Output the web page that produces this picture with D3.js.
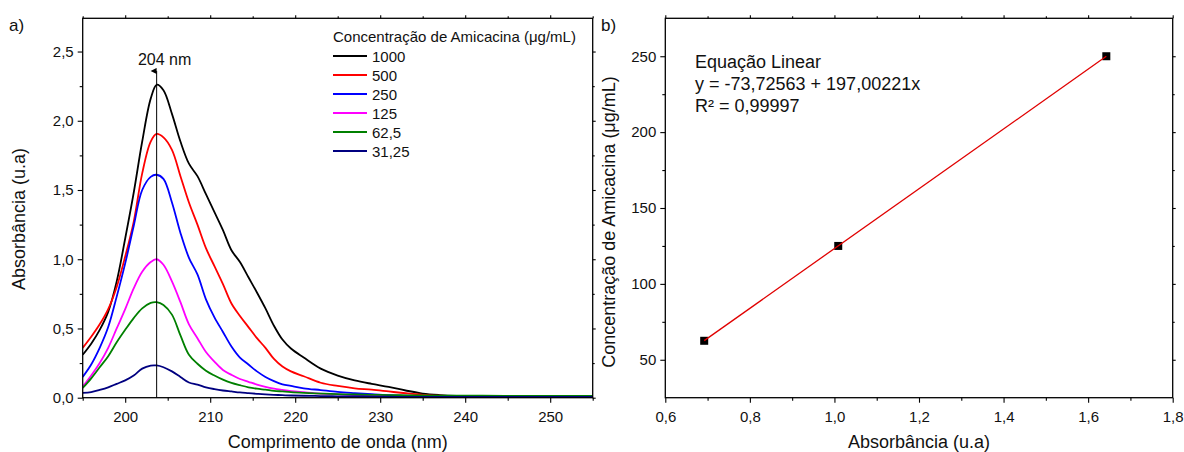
<!DOCTYPE html>
<html>
<head>
<meta charset="utf-8">
<script src="https://cdn.jsdelivr.net/npm/d3@7"></script>
<style>
  html, body { margin: 0; padding: 0; background: #fff; }
  svg { display: block; font-family: "Liberation Sans", Arial, sans-serif; }
</style>
</head>
<body>
<svg id="chart" width="1184" height="452"></svg>
<script>
// ---- Spectra (panel a) ----
const wavelength = [195, 196, 197, 198, 199, 200, 201, 202, 203, 203.7, 204.5, 205.5, 206.5, 207.5, 208.5, 209.5,
  210.5, 211.5, 212.5, 213.5, 214.5, 215.5, 216.5, 217.5, 218.5, 219.5, 221, 223, 225, 227, 229, 231, 233, 235,
  237, 239, 242, 246, 250, 255];

const abs1000 = [0.31, 0.39, 0.49, 0.62, 0.84, 1.15, 1.48, 1.85, 2.16, 2.26, 2.22, 2.05, 1.85, 1.69, 1.60, 1.47,
  1.34, 1.21, 1.065, 0.98, 0.87, 0.76, 0.645, 0.52, 0.42, 0.355, 0.29, 0.21, 0.16, 0.125, 0.10, 0.078, 0.052, 0.03,
  0.019, 0.013, 0.010, 0.009, 0.008, 0.008];
const abs500 = [0.36, 0.44, 0.53, 0.64, 0.80, 1.02, 1.27, 1.62, 1.85, 1.905, 1.88, 1.79, 1.60, 1.41, 1.25, 1.08,
  0.95, 0.82, 0.68, 0.59, 0.51, 0.43, 0.36, 0.28, 0.225, 0.19, 0.155, 0.108, 0.085, 0.068, 0.058, 0.045, 0.032, 0.021,
  0.015, 0.012, 0.010, 0.009, 0.008, 0.008];
const abs250 = [0.15, 0.24, 0.36, 0.51, 0.73, 0.97, 1.24, 1.50, 1.595, 1.61, 1.58, 1.41, 1.19, 1.01, 0.89, 0.71,
  0.58, 0.475, 0.37, 0.29, 0.24, 0.19, 0.15, 0.12, 0.097, 0.085, 0.068, 0.055, 0.042, 0.033, 0.025, 0.018, 0.014, 0.011,
  0.009, 0.008, 0.007, 0.007, 0.006, 0.006];
const abs125 = [0.08, 0.16, 0.25, 0.36, 0.50, 0.64, 0.79, 0.91, 0.98, 1.0, 0.96, 0.84, 0.69, 0.53, 0.43, 0.33,
  0.26, 0.20, 0.165, 0.135, 0.115, 0.095, 0.078, 0.065, 0.056, 0.048, 0.04, 0.03, 0.024, 0.019, 0.015, 0.012, 0.010, 0.009,
  0.008, 0.007, 0.006, 0.006, 0.006, 0.006];
const abs62_5 = [0.07, 0.14, 0.22, 0.30, 0.40, 0.49, 0.575, 0.645, 0.685, 0.69, 0.67, 0.60, 0.45, 0.31, 0.245, 0.195,
  0.16, 0.13, 0.107, 0.09, 0.075, 0.065, 0.058, 0.05, 0.045, 0.04, 0.035, 0.03, 0.026, 0.023, 0.021, 0.019, 0.017, 0.016,
  0.015, 0.014, 0.014, 0.013, 0.013, 0.013];
const abs31_25 = [0.035, 0.04, 0.056, 0.075, 0.10, 0.125, 0.16, 0.21, 0.232, 0.233, 0.22, 0.19, 0.15, 0.11, 0.095, 0.075,
  0.062, 0.052, 0.045, 0.038, 0.033, 0.028, 0.024, 0.021, 0.018, 0.016, 0.014, 0.012, 0.010, 0.009, 0.008, 0.007, 0.006, 0.006,
  0.005, 0.005, 0.005, 0.005, 0.005, 0.005];

const concLabels = ["1000", "500", "250", "125", "62,5", "31,25"];
const spectra = [abs1000, abs500, abs250, abs125, abs62_5, abs31_25];
const spectraColors = ["#000000", "#ff0000", "#0000ff", "#ff00ff", "#008000", "#000080"];

const peakWavelength = 203.7;
const peakLabel = "204 nm";

const wlTicks = [200, 210, 220, 230, 240, 250];
const absTicks = [0, 0.5, 1.0, 1.5, 2.0, 2.5];

// ---- Calibration (panel b) ----
const calibAbs = [0.692, 1.009, 1.643];
const calibConc = [62.5, 125, 250];
const fitIntercept = -73.72563;
const fitSlope = 197.00221;
const fitR2 = "0,99997";

const calAbsTicks = [0.6, 0.8, 1.0, 1.2, 1.4, 1.6, 1.8];
const calConcTicks = [50, 100, 150, 200, 250];

// ---- Helpers ----
const ptBR = d3.formatLocale({ decimal: ",", thousands: ".", grouping: [3], currency: ["R$", ""] });
const fmt1 = ptBR.format(".1f");
const fmt0 = ptBR.format("d");

const svg = d3.select("#chart");
const TICK_FONT = 15;

function frameAxes(g, x, y, o) {
  const [x0, x1] = x.range();
  const [y0, y1] = y.range(); // y0 bottom, y1 top

  g.append("g").attr("transform", `translate(0,${y0})`)
    .call(d3.axisBottom(x).tickValues(o.xMajor).tickFormat(o.xFmt).tickSizeInner(5).tickSizeOuter(0).tickPadding(9));
  g.append("g").attr("transform", `translate(0,${y0})`)
    .call(d3.axisBottom(x).tickValues(o.xMinor).tickFormat("").tickSizeInner(3).tickSizeOuter(0));
  g.append("g").attr("transform", `translate(${x0},0)`)
    .call(d3.axisLeft(y).tickValues(o.yMajor).tickFormat(o.yFmt).tickSizeInner(5).tickSizeOuter(0).tickPadding(4));
  g.append("g").attr("transform", `translate(${x0},0)`)
    .call(d3.axisLeft(y).tickValues(o.yMinor).tickFormat("").tickSizeInner(3).tickSizeOuter(0));
  // mirrored ticks on top and right
  g.append("g").attr("transform", `translate(0,${y1})`)
    .call(d3.axisTop(x).tickValues(o.xMajor).tickFormat("").tickSizeInner(3).tickSizeOuter(0));
  g.append("g").attr("transform", `translate(0,${y1})`)
    .call(d3.axisTop(x).tickValues(o.xMinor).tickFormat("").tickSizeInner(2).tickSizeOuter(0));
  g.append("g").attr("transform", `translate(${x1},0)`)
    .call(d3.axisRight(y).tickValues(o.yMajor).tickFormat("").tickSizeInner(3).tickSizeOuter(0));
  g.append("g").attr("transform", `translate(${x1},0)`)
    .call(d3.axisRight(y).tickValues(o.yMinor).tickFormat("").tickSizeInner(2).tickSizeOuter(0));

  g.selectAll(".domain").remove();
  g.selectAll(".tick line").attr("stroke", "#000").attr("stroke-width", 1.1);
  g.selectAll(".tick text").attr("fill", "#111").style("font-size", TICK_FONT + "px")
    .style("font-family", '"Liberation Sans", Arial, sans-serif');

  g.append("rect")
    .attr("x", x0).attr("y", y1).attr("width", x1 - x0).attr("height", y0 - y1)
    .attr("fill", "none").attr("stroke", "#000").attr("stroke-width", 1.3);
}

// ================= Panel a =================
const xA = d3.scaleLinear().domain([195, 255]).range([82.7, 592.7]);
const yA = d3.scaleLinear().domain([0, 2.74]).range([397.7, 18.3]);

const gA = svg.append("g");
svg.append("clipPath").attr("id", "clipA").append("rect")
  .attr("x", xA.range()[0]).attr("y", yA.range()[1])
  .attr("width", xA.range()[1] - xA.range()[0]).attr("height", yA.range()[0] - yA.range()[1]);

const lineA = d3.line()
  .x((d, i) => xA(wavelength[i]))
  .y(d => yA(d))
  .curve(d3.curveCatmullRom.alpha(0.5));

const curves = gA.append("g").attr("clip-path", "url(#clipA)");
spectra.forEach((s, k) => {
  curves.append("path")
    .datum(s)
    .attr("d", lineA)
    .attr("fill", "none")
    .attr("stroke", spectraColors[k])
    .attr("stroke-width", 1.8)
    .attr("stroke-linejoin", "round");
});

// peak marker with arrow
svg.append("defs").append("marker")
  .attr("id", "arrowHead").attr("viewBox", "0 0 10 10")
  .attr("refX", 5).attr("refY", 10)
  .attr("markerWidth", 6).attr("markerHeight", 10).attr("markerUnits", "userSpaceOnUse")
  .attr("orient", "auto-start-reverse")
  .append("path").attr("d", "M0,10 L5,0 L10,10 Z").attr("fill", "#000");

gA.append("line")
  .attr("x1", xA(peakWavelength)).attr("x2", xA(peakWavelength))
  .attr("y1", yA(0)).attr("y2", yA(2.36))
  .attr("stroke", "#000").attr("stroke-width", 1)
  .attr("marker-end", "url(#arrowHead)");

gA.append("text")
  .attr("x", xA(peakWavelength) + 8).attr("y", 65)
  .attr("text-anchor", "middle").style("font-size", "16px").attr("fill", "#111")
  .text(peakLabel);

frameAxes(gA, xA, yA, {
  xMajor: wlTicks, xMinor: [195, 205, 215, 225, 235, 245, 255], xFmt: fmt0,
  yMajor: absTicks, yMinor: [0.25, 0.75, 1.25, 1.75, 2.25], yFmt: fmt1
});

// legend
const leg = gA.append("g").attr("transform", "translate(333,0)");
leg.append("text").attr("x", 0).attr("y", 42).style("font-size", "15px").attr("fill", "#111")
  .text("Concentração de Amicacina (μg/mL)");
concLabels.forEach((lab, k) => {
  const cy = 56 + k * 19;
  leg.append("line").attr("x1", 0).attr("x2", 34).attr("y1", cy).attr("y2", cy)
    .attr("stroke", spectraColors[k]).attr("stroke-width", 1.8);
  leg.append("text").attr("x", 39).attr("y", cy + 5.5).style("font-size", "15px").attr("fill", "#111").text(lab);
});

// titles
svg.append("text").attr("x", 337.7).attr("y", 448).attr("text-anchor", "middle")
  .style("font-size", "18px").attr("fill", "#111").text("Comprimento de onda (nm)");
svg.append("text").attr("transform", "translate(25,219) rotate(-90)").attr("text-anchor", "middle")
  .style("font-size", "18px").attr("fill", "#111").text("Absorbância (u.a)");
svg.append("text").attr("x", 9).attr("y", 31).style("font-size", "17px").attr("fill", "#111").text("a)");

// ================= Panel b =================
const xB = d3.scaleLinear().domain([0.6, 1.8]).range([665.3, 1172.7]);
const yB = d3.scaleLinear().domain([25, 275]).range([397.7, 18.3]);
const gB = svg.append("g");

const sq = 8;
gB.selectAll("rect.pt").data(calibAbs).join("rect")
  .attr("class", "pt")
  .attr("x", (d) => xB(d) - sq / 2)
  .attr("y", (d, i) => yB(calibConc[i]) - sq / 2)
  .attr("width", sq).attr("height", sq)
  .attr("fill", "#000");

const fitX = d3.extent(calibAbs);
gB.append("path")
  .datum(fitX)
  .attr("d", d3.line().x(d => xB(d)).y(d => yB(fitIntercept + fitSlope * d)))
  .attr("fill", "none").attr("stroke", "#e00000").attr("stroke-width", 1.3);

frameAxes(gB, xB, yB, {
  xMajor: calAbsTicks, xMinor: [0.7, 0.9, 1.1, 1.3, 1.5, 1.7], xFmt: fmt1,
  yMajor: calConcTicks, yMinor: [75, 125, 175, 225], yFmt: fmt0
});

const eq = gB.append("g").attr("transform", "translate(695,0)").style("font-size", "18px").attr("fill", "#111");
eq.append("text").attr("y", 68).text("Equação Linear");
eq.append("text").attr("y", 89.5)
  .text(`y = ${ptBR.format(".5f")(fitIntercept).replace("−", "-")} + ${ptBR.format(".5f")(fitSlope)}x`);
eq.append("text").attr("y", 111.5).text(`R² = ${fitR2}`);

svg.append("text").attr("x", 919).attr("y", 448).attr("text-anchor", "middle")
  .style("font-size", "18px").attr("fill", "#111").text("Absorbância (u.a)");
svg.append("text").attr("transform", "translate(615,222) rotate(-90)").attr("text-anchor", "middle")
  .style("font-size", "18px").attr("fill", "#111").text("Concentração de Amicacina (μg/mL)");
svg.append("text").attr("x", 601).attr("y", 31).style("font-size", "17px").attr("fill", "#111").text("b)");
</script>
</body>
</html>
